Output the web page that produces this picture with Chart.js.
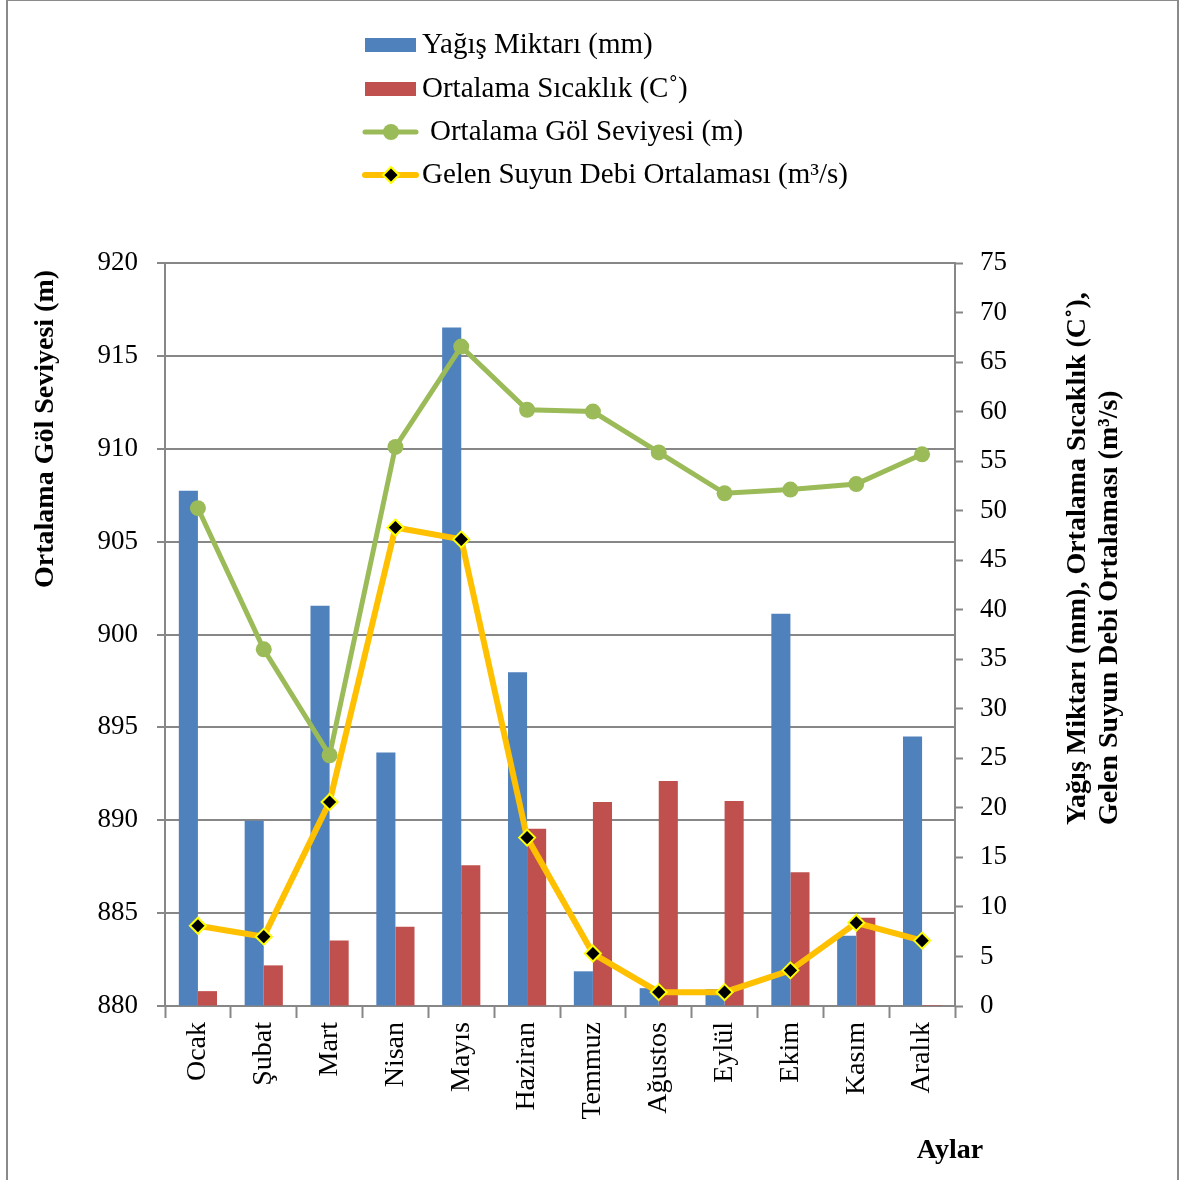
<!DOCTYPE html>
<html>
<head>
<meta charset="utf-8">
<script src="https://cdn.jsdelivr.net/npm/chart.js@4.4.0/dist/chart.umd.min.js"></script>
<style>
  body { margin: 0; background: #fff; }
  #wrap { position: relative; width: 1179px; height: 1180px; }
</style>
</head>
<body>
<div id="wrap"><canvas id="chart" width="1179" height="1180"></canvas></div>
<script>
const months = ['Ocak', 'Şubat', 'Mart', 'Nisan', 'Mayıs', 'Haziran', 'Temmuz', 'Ağustos', 'Eylül', 'Ekim', 'Kasım', 'Aralık'];
const yagis = [52.0, 18.7, 40.4, 25.6, 68.5, 33.7, 3.5, 1.8, 1.7, 39.6, 7.1, 27.2];
const sicaklik = [1.5, 4.1, 6.6, 8.0, 14.2, 17.9, 20.6, 22.7, 20.7, 13.5, 8.9, 0.1];
const golSeviyesi = [906.8, 899.2, 893.5, 910.1, 915.5, 912.1, 912.0, 909.8, 907.6, 907.8, 908.1, 909.7];
const debi = [8.1, 7.0, 20.6, 48.3, 47.1, 17.0, 5.3, 1.4, 1.4, 3.6, 8.4, 6.6];

const FONT = "'Liberation Serif', 'Times New Roman', serif";
const GRID = '#878787';

// legend, axis titles and outer frame drawn by hand
const decorPlugin = {
  id: 'decor',
  afterDraw(chart) {
    const ctx = chart.ctx;
    const ds = chart.data.datasets;
    ctx.save();
    // frame
    ctx.strokeStyle = '#8a8a8a';
    ctx.lineWidth = 2;
    ctx.strokeRect(7, 0, 1171, 1190);

    // legend
    ctx.font = '29px ' + FONT;
    ctx.fillStyle = '#000';
    ctx.textBaseline = 'middle';
    const rows = [45, 89, 132, 175];
    // bars
    ctx.fillStyle = ds[0].backgroundColor;
    ctx.fillRect(365, 38, 51, 14);
    ctx.fillStyle = ds[1].backgroundColor;
    ctx.fillRect(365, 82, 51, 14);
    // green line + dot
    ctx.strokeStyle = ds[2].borderColor;
    ctx.lineWidth = 5;
    ctx.lineCap = 'round';
    ctx.beginPath(); ctx.moveTo(365, rows[2]); ctx.lineTo(416, rows[2]); ctx.stroke();
    ctx.fillStyle = ds[2].backgroundColor;
    ctx.beginPath(); ctx.arc(391, rows[2], 8, 0, Math.PI * 2); ctx.fill();
    // yellow line + diamond
    ctx.strokeStyle = ds[3].borderColor;
    ctx.lineWidth = 6;
    ctx.beginPath(); ctx.moveTo(365, rows[3]); ctx.lineTo(416, rows[3]); ctx.stroke();
    ctx.fillStyle = '#000';
    ctx.strokeStyle = '#ffff00';
    ctx.lineWidth = 2;
    ctx.beginPath();
    ctx.moveTo(391, rows[3] - 8); ctx.lineTo(399, rows[3]); ctx.lineTo(391, rows[3] + 8); ctx.lineTo(383, rows[3]);
    ctx.closePath(); ctx.fill(); ctx.stroke();

    ctx.fillStyle = '#000';
    ctx.textAlign = 'left';
    ctx.fillText(ds[0].label, 422, rows[0]);
    ctx.fillText(ds[1].label, 422, rows[1]);
    ctx.fillText(ds[2].label, 430, rows[2]);
    ctx.fillText(ds[3].label, 422, rows[3]);

    // axis titles
    ctx.font = 'bold 28px ' + FONT;
    ctx.textAlign = 'left';
    ctx.textBaseline = 'middle';
    ctx.save();
    ctx.translate(46, 588);
    ctx.rotate(-Math.PI / 2);
    ctx.fillText('Ortalama Göl Seviyesi (m)', 0, 0);
    ctx.restore();

    ctx.save();
    ctx.translate(1078, 825);
    ctx.rotate(-Math.PI / 2);
    ctx.fillText('Yağış Miktarı (mm), Ortalama Sıcaklık (C˚),', 0, 0);
    ctx.fillText('Gelen Suyun Debi Ortalaması (m³/s)', 0, 32);
    ctx.restore();

    ctx.textAlign = 'center';
    ctx.fillText('Aylar', 950, 1151);
    ctx.restore();
  }
};

const ctx = document.getElementById('chart').getContext('2d');
new Chart(ctx, {
  type: 'bar',
  data: {
    labels: months,
    datasets: [
      {
        label: 'Yağış Miktarı (mm)',
        data: yagis,
        backgroundColor: '#4f81bd',
        yAxisID: 'y1',
        order: 3,
        categoryPercentage: 0.58,
        barPercentage: 1.0,
      },
      {
        label: 'Ortalama Sıcaklık (C˚)',
        data: sicaklik,
        backgroundColor: '#c0504d',
        yAxisID: 'y1',
        order: 3,
        categoryPercentage: 0.58,
        barPercentage: 1.0,
      },
      {
        type: 'line',
        label: 'Ortalama Göl Seviyesi (m)',
        data: golSeviyesi,
        borderColor: '#9bbb59',
        backgroundColor: '#9bbb59',
        borderWidth: 5,
        pointRadius: 8,
        pointBorderWidth: 0,
        yAxisID: 'y',
        order: 2,
      },
      {
        type: 'line',
        label: 'Gelen Suyun Debi Ortalaması (m³/s)',
        data: debi,
        borderColor: '#ffc000',
        backgroundColor: '#000000',
        borderWidth: 6,
        pointStyle: 'rectRot',
        pointRadius: 8,
        pointBorderColor: '#ffff00',
        pointBorderWidth: 2,
        yAxisID: 'y1',
        order: 1,
      },
    ],
  },
  options: {
    responsive: false,
    animation: false,
    layout: { padding: { top: 263, left: 0, right: 0, bottom: 0 } },
    plugins: {
      legend: { display: false },
      tooltip: { enabled: false },
    },
    scales: {
      x: {
        offset: true,
        grid: {
          offset: true,
          drawOnChartArea: false,
          tickLength: 12,
          tickColor: GRID,
          tickWidth: 2,
        },
        border: { color: GRID, width: 2 },
        ticks: {
          color: '#000',
          font: { family: FONT, size: 28 },
          minRotation: 90,
          maxRotation: 90,
          padding: 4,
        },
        afterFit(scale) { scale.height = 174; },
      },
      y: {
        position: 'left',
        min: 880,
        max: 920,
        grid: {
          color: GRID,
          lineWidth: 2,
          tickLength: 8,
          tickColor: GRID,
        },
        border: { color: GRID, width: 2 },
        ticks: {
          stepSize: 5,
          color: '#000',
          font: { family: FONT, size: 27 },
          padding: 19,
        },
        afterFit(scale) { scale.width = 165; },
      },
      y1: {
        position: 'right',
        min: 0,
        max: 75,
        grid: {
          drawOnChartArea: false,
          tickLength: 8,
          tickColor: GRID,
          tickWidth: 2,
        },
        border: { color: GRID, width: 2 },
        ticks: {
          stepSize: 5,
          color: '#000',
          font: { family: FONT, size: 27 },
          padding: 17,
        },
        afterFit(scale) { scale.width = 224; },
      },
    },
  },
  plugins: [decorPlugin],
});
</script>
</body>
</html>
